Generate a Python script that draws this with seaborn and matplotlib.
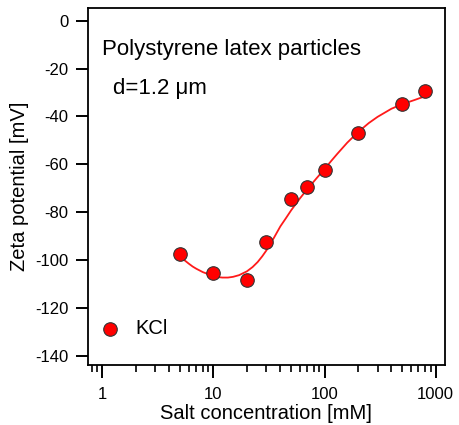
import numpy as np
import pandas as pd
import matplotlib
matplotlib.use("Agg")
import matplotlib.pyplot as plt
import seaborn as sns
from matplotlib.ticker import LogLocator, FixedLocator, NullFormatter

# measured zeta potential (KCl)
conc = [5, 10, 20, 30, 50, 70, 100, 200, 500, 800]
zeta = [-97.6, -105.7, -108.6, -92.6, -74.5, -69.5, -62.5, -46.8, -34.9, -29.2]

# fitted curve
fit_conc = [5, 5.5, 6, 6.5, 7, 8, 9, 10, 11, 12, 13.5, 15, 17, 20, 22.5, 25,
            27.5, 30, 35, 40, 45, 50, 60, 70, 85, 100, 115, 130, 160, 200,
            250, 300, 400, 500, 650, 800]
fit_zeta = [-98.5, -100.2, -101.6, -102.8, -103.7, -105.1, -106.0, -106.7,
            -107.2, -107.4, -107.4, -107.1, -106.4, -104.8, -103.0, -100.9,
            -98.5, -96.0, -90.8, -86.0, -82.5, -79.3, -74.3, -70.4, -65.8,
            -62.0, -58.6, -55.7, -51.0, -46.6, -42.8, -40.2, -36.8, -34.9,
            -33.1, -31.6]

y_ticks = [0, -20, -40, -60, -80, -100, -120, -140]
x_ticks = [1, 10, 100, 1000]

sns.set_style("ticks")
plt.rcParams['font.family'] = ['Liberation Sans', 'DejaVu Sans']
plt.rcParams['text.color'] = 'black'

pts = pd.DataFrame({'conc': conc, 'zeta': zeta})
fit = pd.DataFrame({'conc': fit_conc, 'zeta': fit_zeta})

fig = plt.figure(figsize=(4.6, 4.25), dpi=100)
ax = fig.add_axes([0.191, 0.141, 0.776, 0.840])

sns.lineplot(data=fit, x='conc', y='zeta', color='#ff1a1a', linewidth=1.3, ax=ax, legend=False)
sns.scatterplot(data=pts, x='conc', y='zeta', color='#ff0000', edgecolor='#333333',
                linewidth=0.8, s=95, ax=ax, label='KCl', zorder=3)

ax.set_xscale('log')
ax.set_xlim(0.74, 1210)
ax.set_ylim(-144, 5.3)
ax.xaxis.set_major_locator(FixedLocator(x_ticks))
ax.set_xticklabels([str(t) for t in x_ticks])
ax.xaxis.set_minor_locator(LogLocator(base=10, subs=np.arange(2, 10)))
ax.xaxis.set_minor_formatter(NullFormatter())
ax.set_yticks(y_ticks)
ax.set_yticklabels([str(t) for t in y_ticks])

ax.tick_params(axis='both', which='major', direction='out', length=9, width=1.4,
               color='black', labelsize=12, labelcolor='black')
ax.tick_params(axis='y', which='major', pad=5)
ax.tick_params(axis='x', which='major', pad=7)
ax.tick_params(axis='x', which='minor', direction='out', length=5, width=1.2, color='black')
for s in ax.spines.values():
    s.set_color('black')
    s.set_linewidth(1.3)

ax.set_xlabel('Salt concentration [mM]', fontsize=14.5, labelpad=1, color='black')
ax.set_ylabel('Zeta potential [mV]', fontsize=14.5, labelpad=4, color='black')

ax.text(0.04, 0.885, 'Polystyrene latex particles', transform=ax.transAxes,
        fontsize=16, va='center', ha='left', color='black')
ax.text(0.07, 0.776, 'd=1.2 μm', transform=ax.transAxes,
        fontsize=16, va='center', ha='left', color='black')

leg = ax.legend(loc='lower left', bbox_to_anchor=(-0.045, 0.024), frameon=False,
                fontsize=14.5, handletextpad=0.25, markerscale=1.0)
for t in leg.get_texts():
    t.set_color('black')

plt.savefig('out.png', dpi=100)
plt.close()
